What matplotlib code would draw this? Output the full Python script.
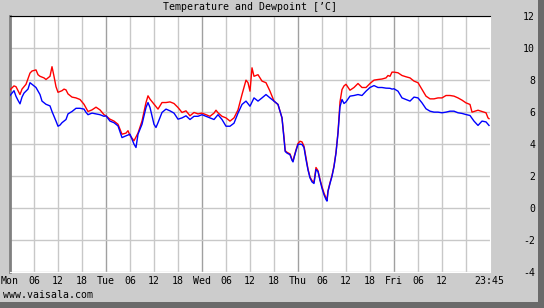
import matplotlib.pyplot as plt
from matplotlib.patches import Rectangle

# ----------------------------------------------------
# DATA  (hours from Monday 00:00)

temp_hours = [0, 1, 1.5, 2.5, 3, 4, 5, 5.5, 6.5, 7, 7.5, 8.5, 9, 10, 10.5, 11, 11.5, 12,
              13, 13.5, 14, 14.5, 15.5, 16.5, 17.5, 18.5, 19.5, 20.5, 21.5, 22.5, 23.5,
              24, 25, 26, 27, 28, 29, 29.5, 30, 31, 32, 33, 34, 34.5, 35, 36, 37, 38, 39,
              40, 41, 42, 43, 44, 45, 46, 47,
              48, 49, 50, 51, 51.5, 52, 53, 54, 55, 56, 57, 58, 59, 59.5, 60, 60.5, 61, 62,
              63, 64, 65, 66, 67, 68, 68.5, 68.8, 69.25, 70, 70.5, 70.75, 71, 71.5,
              72, 72.5, 73, 73.5, 74, 74.5, 75, 75.5, 76, 76.5, 77, 77.5, 78, 78.5, 79,
              79.25, 79.5, 80, 80.5, 81, 81.5, 82, 82.25, 82.5, 83, 83.5, 84, 85, 86, 87,
              88, 89, 90, 91, 92, 93, 94, 94.5, 95, 95.5,
              96, 97, 98, 99, 100, 101, 102, 103, 104, 105, 106, 107, 108, 109, 110, 111,
              112, 113, 114, 115, 115.5, 116, 117, 118, 119, 119.5, 119.75]
temp_vals = [7.35, 7.6, 7.55, 7.06, 7.4, 7.7, 8.4, 8.53, 8.6, 8.3, 8.2, 8.1, 8.0, 8.2, 8.8,
             8.2, 7.55, 7.2, 7.3, 7.4, 7.35, 7.1, 6.9, 6.85, 6.75, 6.45, 6.0, 6.1, 6.27, 6.1,
             5.8,
             5.73, 5.52, 5.4, 5.2, 4.58, 4.65, 4.8, 4.5, 4.17, 4.65, 5.4, 6.56, 6.98, 6.77,
             6.46, 6.15, 6.56, 6.56, 6.6, 6.5, 6.25, 5.94, 6.04, 5.73, 5.94, 5.85,
             5.9, 5.8, 5.7, 5.9, 6.08, 5.92, 5.7, 5.6, 5.4, 5.6, 6.1, 7.06, 7.96, 7.8, 7.27,
             8.73, 8.2, 8.3, 7.9, 7.8, 7.27, 6.65, 6.44, 5.6, 4.4, 3.55, 3.45, 3.35, 3.0,
             2.9, 3.15, 3.6,
             4.0, 4.14, 4.1, 3.83, 3.1, 2.4, 1.9, 1.68, 1.58, 2.5, 2.3, 1.75, 1.3, 0.9, 0.6,
             0.45, 1.05, 1.55, 2.0, 2.6, 3.45, 4.7, 5.6, 6.6, 7.37, 7.6, 7.7, 7.33, 7.5,
             7.75, 7.5, 7.5, 7.75, 7.96, 8.0, 8.03, 8.1, 8.25, 8.2, 8.46,
             8.46, 8.42, 8.25, 8.17, 8.1, 7.9, 7.8, 7.375, 6.96, 6.79, 6.79, 6.85, 6.85,
             7.0, 7.0, 6.96, 6.85, 6.71, 6.54, 6.44, 5.96, 6.0, 6.08, 6.0, 5.92, 5.6, 5.55]

dew_hours = [0, 0.5, 1, 1.5, 2, 2.5, 3, 3.5, 4.5, 5, 5.5, 6.5, 7.5, 8, 9, 9.5, 10, 10.5,
             11, 11.5, 12, 12.5, 13, 14, 14.5, 15.5, 16.5, 17.5, 18.5, 19, 19.5, 20.5,
             21.5, 22.5, 23.5,
             24, 25, 26, 27, 28, 29, 30, 31, 31.5, 32, 33, 34, 34.5, 35, 36, 36.5, 37, 38,
             39, 40, 41, 42, 43, 44, 45, 46, 47,
             48, 49, 50, 51, 52, 53, 54, 55, 56, 57, 58, 59, 60, 61, 62, 63, 64, 65, 66,
             67, 68, 68.5, 68.8, 69.25, 70, 70.5, 70.75, 71, 71.5,
             72, 72.5, 73, 73.5, 74, 74.5, 75, 75.5, 76, 76.5, 77, 77.5, 78, 78.5, 79,
             79.25, 79.5, 80, 80.5, 81, 81.5, 82, 82.25, 82.5, 83, 83.5, 84, 85, 86, 87,
             88, 89, 90, 91, 92, 93, 94, 95, 95.5,
             96, 97, 98, 99, 100, 101, 102, 103, 104, 105, 106, 107, 108, 109, 110, 111,
             112, 113, 114, 115, 116, 117, 118, 119, 119.75]
dew_vals = [7.0, 7.15, 7.3, 6.95, 6.7, 6.48, 6.9, 7.15, 7.4, 7.8, 7.7, 7.5, 7.06, 6.65,
            6.45, 6.4, 6.35, 6.0, 5.7, 5.4, 5.08, 5.15, 5.3, 5.5, 5.85, 6.0, 6.2, 6.2,
            6.15, 5.95, 5.8, 5.9, 5.85, 5.8, 5.7,
            5.73, 5.4, 5.3, 5.1, 4.37, 4.48, 4.58, 3.96, 3.75, 4.58, 5.2, 6.25, 6.56, 6.25,
            5.2, 5.0, 5.3, 5.94, 6.15, 6.04, 5.9, 5.52, 5.6, 5.73, 5.5, 5.7, 5.7,
            5.8, 5.7, 5.6, 5.5, 5.8, 5.5, 5.08, 5.08, 5.27, 5.9, 6.44, 6.65, 6.33, 6.85,
            6.65, 6.85, 7.06, 6.85, 6.65, 6.44, 5.6, 4.3, 3.5, 3.4, 3.3, 2.95, 2.85, 3.1,
            3.55,
            3.94, 3.96, 3.94, 3.75, 3.0, 2.35, 1.85, 1.6, 1.5, 2.37, 2.25, 1.7, 1.2, 0.8,
            0.5, 0.4, 1.0, 1.5, 1.95, 2.55, 3.4, 4.65, 5.5, 6.3, 6.75, 6.5, 6.6, 6.96, 7.0,
            7.06, 7.0, 7.27, 7.5, 7.62, 7.5, 7.5, 7.46, 7.45, 7.4,
            7.42, 7.27, 6.85, 6.75, 6.65, 6.9, 6.85, 6.54, 6.17, 6.02, 5.96, 5.96, 5.92,
            5.96, 6.02, 6.02, 5.92, 5.88, 5.81, 5.75, 5.4, 5.13, 5.4, 5.35, 5.13]

x_ticks = list(range(0, 120, 6)) + [119.75]
x_labels = ['Mon', '06', '12', '18', 'Tue', '06', '12', '18', 'Wed', '06', '12', '18',
            'Thu', '06', '12', '18', 'Fri', '06', '12', '', '23:45']
y_ticks = list(range(-4, 13, 2))

# ----------------------------------------------------
# PLOT

W, H = 544, 308
BG = '#cccccc'
plt.rcParams['font.family'] = 'DejaVu Sans Mono'
plt.rcParams['font.size'] = 7.1

fig = plt.figure(figsize=(W / 100, H / 100), dpi=100, facecolor=BG)
ax = fig.add_axes([10 / W, (H - 271.5) / H, 480 / W, 256 / H])
ax.set_facecolor('white')

ax.set_xlim(0, 120)
ax.set_ylim(-4, 12)

# grid: light every 6h, darker at day boundaries
for h in range(6, 120, 6):
    ax.axvline(h, color='#a0a0a0' if h % 24 == 0 else '#c8c8c8', lw=1, zorder=1)
for v in y_ticks:
    ax.axhline(v, color='#c8c8c8', lw=1, zorder=1)

ax.plot(temp_hours, temp_vals, color='#ff0000', lw=1, zorder=3)
ax.plot(dew_hours, dew_vals, color='#0000ff', lw=1, zorder=4)

ax.set_xticks(x_ticks)
ax.set_xticklabels(x_labels)
ax.tick_params(axis='x', length=0, pad=3)

ax.yaxis.tick_right()
ax.set_yticks(y_ticks)
ax.set_yticklabels([str(v) for v in y_ticks])
ax.tick_params(axis='y', length=0, pad=32.5)
for lbl in ax.get_yticklabels():
    lbl.set_horizontalalignment('right')

for side in ['right', 'bottom']:
    ax.spines[side].set_color('white')
ax.spines['top'].set_color('black')
ax.spines['left'].set_color('#808080')
ax.spines['left'].set_linewidth(2)

fig.text(250 / W, 1 - 7 / H, 'Temperature and Dewpoint [\u2019C]', ha='center', va='center')
fig.text(3 / W, 1 - 295 / H, 'www.vaisala.com', ha='left', va='center')

# dark frame on right and bottom edges
fig.patches.append(Rectangle((538 / W, 0), 6 / W, 1, transform=fig.transFigure,
                             facecolor='#6a6a6a', edgecolor='none'))
fig.patches.append(Rectangle((0, 0), 1, 6 / H, transform=fig.transFigure,
                             facecolor='#6a6a6a', edgecolor='none'))

fig.savefig('out.png', dpi=100, facecolor=BG)
